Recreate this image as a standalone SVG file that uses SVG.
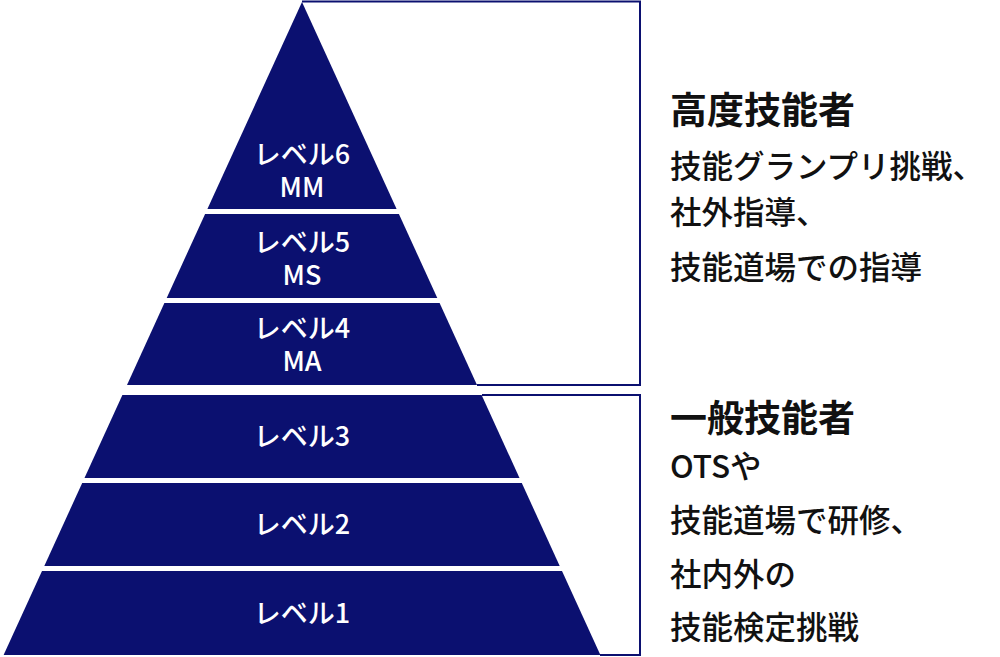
<svg xmlns="http://www.w3.org/2000/svg" width="1000" height="657" viewBox="0 0 1000 657">
<style>
.b{fill:#0b1070}
.l{fill:#fff;font-family:"Noto Sans CJK JP","Noto Sans",sans-serif;font-size:27px;font-weight:500;text-anchor:middle}
.h{fill:#111;font-family:"Noto Sans CJK JP",sans-serif;font-size:37px;font-weight:bold}
.t{fill:#111;font-family:"Noto Sans CJK JP",sans-serif;font-size:31.5px;font-weight:500}
.c{fill:none;stroke:#0b1070;stroke-width:2}
</style>
<rect width="1000" height="657" fill="#fff"/>
<g id="connectors">
<path class="c" d="M302,1.5H640V385H477"/>
<path class="c" d="M482,395H640V655H600"/>
</g>
<g id="level6"><polygon class="b" points="302,2 396.6,209 207.4,209"/><text class="l" x="302" y="164">レベル6</text><text class="l" x="302" y="197">MM</text></g>
<g id="level5"><polygon class="b" points="205.1,214 398.9,214 437.3,298 166.7,298"/><text class="l" x="302" y="252">レベル5</text><text class="l" x="302" y="285">MS</text></g>
<g id="level4"><polygon class="b" points="164.4,303 439.6,303 477,385 127,385"/><text class="l" x="302" y="338">レベル4</text><text class="l" x="302" y="371">MA</text></g>
<g id="level3"><polygon class="b" points="122.4,395 481.6,395 519.5,478 84.5,478"/><text class="l" x="302" y="446">レベル3</text></g>
<g id="level2"><polygon class="b" points="82.2,483 521.8,483 559.7,566 44.3,566"/><text class="l" x="302" y="534">レベル2</text></g>
<g id="level1"><polygon class="b" points="42,571 562,571 600.4,655 3.6,655"/><text class="l" x="302" y="623">レベル1</text></g>
<g id="text-high">
<text class="h" x="670" y="124">高度技能者</text>
<text class="t" x="670" y="178">技能グランプリ挑戦、</text>
<text class="t" x="670" y="224">社外指導、</text>
<text class="t" x="670" y="279">技能道場での指導</text>
</g>
<g id="text-general">
<text class="h" x="670" y="432">一般技能者</text>
<text class="t" x="670" y="478">OTSや</text>
<text class="t" x="670" y="532">技能道場で研修、</text>
<text class="t" x="670" y="586">社内外の</text>
<text class="t" x="670" y="639">技能検定挑戦</text>
</g>
</svg>
